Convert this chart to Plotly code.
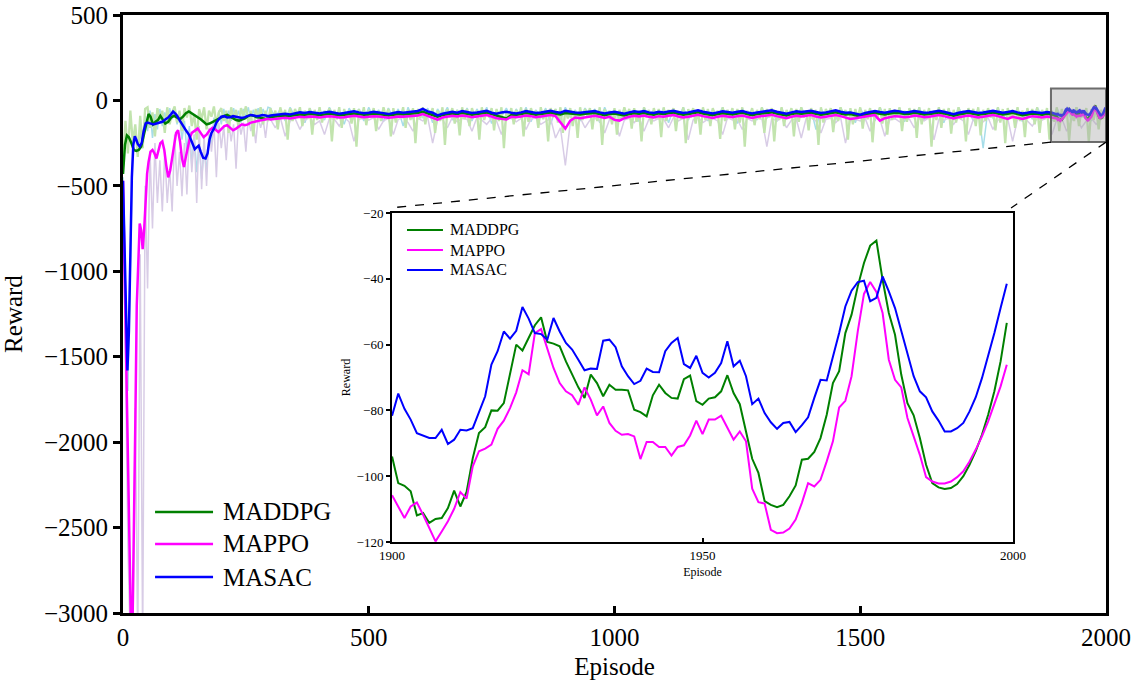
"""
Reward curves of MADDPG, MAPPO and MASAC over 2000 episodes,
with an inset that zooms in on the last 100 episodes
"""
import plotly.graph_objects as go

green = '#008000'
magenta = '#ff00ff'
blue = '#0000ff'
green_raw = '#c2e4ae'
purple_raw = '#d8cce6'
cyan_raw = '#a6dde9'
serif = 'Liberation Serif, Times New Roman, serif'

algos = ['MADDPG', 'MAPPO', 'MASAC']

# ---- smoothed curves, first 300 episodes ----
maddpg_early_ep = [0, 4, 8, 12, 17, 22, 27, 32, 37, 42, 47, 52, 56, 61, 66, 71, 76, 81, 86, 92,
                   98, 104, 110, 116, 122, 128, 134, 140, 146, 152, 158, 164, 170, 176, 182, 188,
                   194, 200, 206, 212, 218, 224, 230, 236, 242, 248, 254, 260, 266, 272, 278, 284,
                   290, 296]
maddpg_early = [-430, -260, -205, -215, -250, -290, -295, -290, -270, -200, -130, -80, -95, -140,
                -125, -115, -90, -115, -135, -125, -100, -90, -100, -110, -95, -75, -65, -75, -85,
                -100, -110, -125, -140, -135, -125, -120, -110, -100, -90, -85, -95, -105, -115,
                -118, -112, -105, -92, -85, -90, -98, -100, -105, -108, -104]

mappo_early_ep = [0, 4, 8, 12, 16, 19, 22, 25, 28, 31, 34, 37, 40, 43, 46, 49, 52, 56, 60, 64, 68,
                  72, 76, 80, 84, 88, 92, 96, 100, 104, 108, 112, 116, 120, 124, 128, 132, 136,
                  140, 146, 152, 158, 164, 170, 176, 182, 188, 194, 200, 206, 212, 218, 224, 230,
                  236, 242, 248, 254, 260, 266, 272, 278, 284, 290, 296]
mappo_early = [-470, -1100, -1800, -2500, -3050, -3150, -2600, -1900, -1200, -890, -720, -760,
               -870, -760, -560, -430, -360, -300, -290, -310, -340, -300, -250, -240, -290, -380,
               -450, -410, -330, -250, -190, -175, -240, -340, -390, -330, -270, -220, -190, -175,
               -165, -190, -215, -200, -175, -160, -170, -185, -170, -150, -145, -160, -175, -165,
               -150, -140, -145, -140, -130, -125, -120, -118, -115, -112, -108]

masac_early_ep = [0, 3, 6, 9, 12, 15, 18, 21, 24, 27, 30, 34, 38, 42, 46, 50, 56, 62, 68, 74, 80,
                  86, 92, 98, 102, 106, 110, 116, 122, 128, 134, 140, 146, 150, 154, 158, 163, 168,
                  172, 176, 180, 185, 190, 195, 200, 206, 212, 218, 224, 230, 236, 242, 248, 254,
                  260, 266, 272, 278, 284, 290, 296]
masac_early = [-470, -900, -1300, -1580, -1350, -800, -450, -260, -210, -230, -255, -270, -250,
               -180, -135, -130, -135, -140, -135, -130, -125, -112, -100, -80, -65, -75, -90,
               -120, -150, -175, -200, -240, -285, -275, -265, -300, -335, -340, -310, -230, -190,
               -165, -130, -110, -95, -92, -100, -98, -92, -95, -100, -102, -98, -90, -85, -88,
               -92, -90, -86, -88, -92]

# ---- smoothed curves, episodes 300..1890 every 10 ----
mid_ep = list(range(300, 1900, 10))
maddpg_mid = [
    -98, -94, -90, -88, -90, -85, -82, -84, -80, -82,
    -85, -82, -78, -82, -86, -84, -80, -76, -80, -84,
    -82, -78, -80, -85, -88, -84, -80, -82, -80, -76,
    -74, -66, -76, -82, -95, -86, -80, -76, -80, -74,
    -78, -84, -80, -76, -72, -80, -90, -96, -106, -86,
    -86, -80, -74, -78, -84, -80, -76, -72, -78, -82,
    -74, -78, -80, -82, -78, -75, -74, -80, -86, -80,
    -76, -82, -88, -80, -75, -78, -74, -80, -84, -76,
    -80, -75, -72, -78, -84, -80, -74, -70, -76, -82,
    -86, -80, -75, -78, -82, -76, -72, -80, -86, -80,
    -76, -72, -70, -76, -82, -88, -80, -75, -78, -74,
    -72, -78, -84, -80, -75, -70, -76, -82, -80, -86,
    -94, -84, -76, -72, -78, -82, -76, -72, -74, -80,
    -78, -72, -76, -82, -80, -75, -72, -76, -84, -90,
    -82, -76, -72, -78, -84, -80, -75, -72, -76, -82,
    -78, -72, -80, -86, -82, -76, -80, -84, -78, -82]
mappo_mid = [
    -112, -108, -104, -102, -106, -100, -96, -98, -94, -96,
    -100, -96, -92, -96, -100, -98, -94, -90, -94, -98,
    -96, -92, -94, -98, -102, -98, -94, -96, -94, -90,
    -88, -80, -90, -98, -112, -100, -94, -90, -94, -88,
    -92, -98, -94, -90, -86, -94, -104, -108, -112, -96,
    -98, -94, -88, -92, -98, -94, -90, -86, -92, -130,
    -165, -118, -100, -104, -98, -92, -90, -96, -102, -96,
    -114, -118, -104, -96, -90, -94, -88, -96, -100, -92,
    -96, -90, -86, -94, -100, -96, -88, -84, -92, -98,
    -102, -96, -90, -94, -98, -92, -88, -96, -102, -96,
    -92, -88, -84, -92, -98, -104, -96, -90, -94, -88,
    -86, -94, -100, -96, -90, -86, -92, -98, -108, -104,
    -98, -94, -90, -86, -118, -104, -96, -92, -94, -98,
    -96, -88, -92, -98, -96, -90, -86, -92, -100, -106,
    -98, -92, -88, -94, -100, -96, -90, -86, -92, -98,
    -108, -96, -104, -108, -100, -92, -96, -100, -94, -98]
masac_mid = [
    -88, -84, -80, -78, -82, -75, -70, -74, -68, -72,
    -76, -70, -66, -72, -78, -74, -68, -64, -70, -75,
    -72, -66, -70, -76, -80, -74, -68, -72, -70, -66,
    -62, -50, -64, -72, -88, -78, -70, -66, -72, -62,
    -68, -74, -70, -64, -60, -72, -78, -70, -66, -72,
    -76, -70, -62, -68, -74, -70, -66, -60, -68, -72,
    -60, -66, -70, -72, -68, -64, -62, -70, -76, -70,
    -66, -72, -78, -70, -64, -68, -62, -70, -74, -66,
    -70, -64, -60, -68, -74, -70, -62, -58, -66, -72,
    -76, -70, -64, -68, -72, -66, -62, -70, -76, -70,
    -66, -62, -58, -66, -72, -78, -70, -64, -68, -62,
    -60, -68, -74, -70, -64, -58, -66, -72, -70, -76,
    -84, -74, -66, -62, -68, -72, -66, -60, -64, -70,
    -68, -62, -66, -72, -70, -64, -60, -66, -74, -80,
    -72, -66, -62, -68, -74, -70, -64, -60, -66, -72,
    -68, -62, -70, -76, -72, -66, -70, -74, -68, -72]

# ---- last 100 episodes (shown in the inset) ----
zoom_ep = list(range(1900, 2000))
maddpg_zoom = [
    -94.0, -102.1, -102.9, -104.6, -111.9, -111.2, -114.2, -113.0, -112.7, -109.7,
    -104.4, -109.2, -104.8, -94.5, -86.9, -85.1, -80.0, -80.1, -77.8, -68.6,
    -60.0, -61.8, -58.0, -54.1, -51.7, -59.2, -59.7, -60.5, -65.1, -69.1,
    -73.0, -76.2, -69.1, -71.7, -75.7, -72.2, -73.7, -73.7, -73.9, -79.8,
    -80.5, -81.8, -75.4, -72.2, -74.7, -76.2, -76.4, -70.5, -69.4, -77.2,
    -78.3, -76.4, -76.0, -74.2, -69.3, -74.7, -78.1, -86.4, -94.7, -99.0,
    -107.6, -108.7, -109.4, -108.7, -106.1, -102.8, -95.0, -94.7, -92.6, -88.4,
    -81.3, -71.7, -68.1, -56.5, -50.9, -42.3, -35.2, -29.9, -28.4, -40.3,
    -50.4, -57.0, -69.1, -77.8, -81.5, -88.4, -96.5, -102.1, -103.4, -103.9,
    -103.6, -102.4, -100.0, -96.5, -92.4, -87.4, -81.3, -74.2, -65.1, -53.4]
mappo_zoom = [
    -105.8, -109.2, -112.7, -109.2, -108.0, -111.7, -115.7, -119.8, -116.8, -113.7,
    -109.9, -104.8, -106.8, -97.0, -92.4, -91.6, -90.4, -85.6, -83.1, -79.3,
    -74.5, -67.8, -69.0, -56.5, -55.3, -61.0, -67.1, -71.7, -74.2, -75.4,
    -78.3, -73.0, -76.7, -81.5, -78.8, -83.8, -86.2, -87.4, -87.2, -87.9,
    -94.8, -89.6, -89.6, -91.1, -91.1, -93.7, -91.1, -90.6, -87.6, -83.1,
    -87.2, -82.8, -82.8, -81.6, -85.1, -88.9, -86.4, -89.4, -103.8, -107.9,
    -108.3, -116.3, -117.3, -117.1, -115.9, -113.2, -108.1, -102.1, -103.1, -101.1,
    -95.5, -89.4, -79.1, -77.1, -69.6, -56.0, -44.6, -41.0, -44.0, -50.4,
    -64.6, -70.7, -73.0, -82.3, -87.9, -93.5, -100.3, -101.6, -102.2, -102.2,
    -101.6, -100.3, -98.5, -95.5, -91.9, -87.9, -83.3, -78.3, -72.7, -66.1]
masac_zoom = [
    -81.6, -74.9, -79.5, -82.8, -86.9, -87.7, -88.4, -88.4, -85.9, -90.2,
    -88.9, -85.9, -86.1, -85.4, -80.8, -75.7, -66.1, -62.0, -56.0, -58.2,
    -55.8, -48.6, -52.1, -56.5, -56.8, -58.5, -51.9, -56.0, -59.5, -61.5,
    -64.6, -67.8, -67.3, -67.4, -58.8, -58.5, -60.8, -66.6, -69.6, -72.0,
    -71.0, -67.3, -68.3, -68.4, -62.0, -59.5, -58.0, -65.9, -67.1, -63.4,
    -68.6, -70.0, -68.6, -65.6, -59.0, -66.6, -64.9, -69.6, -78.1, -76.4,
    -80.8, -83.6, -85.6, -83.8, -83.5, -86.6, -84.5, -82.1, -76.2, -70.7,
    -70.9, -64.1, -56.5, -48.4, -43.6, -41.0, -40.6, -46.8, -45.8, -39.3,
    -43.8, -48.9, -56.0, -62.9, -69.6, -74.2, -76.0, -80.3, -83.1, -86.4,
    -86.4, -85.4, -83.8, -80.3, -76.0, -70.2, -63.6, -56.5, -48.9, -41.5]

# ---- raw (unsmoothed) rewards ----
raw_dense_ep = list(range(0, 2000, 5))
maddpg_raw = [
    -380, -120, -310, -60, -250, -140, -330, -90, -280, -50, -40, -160, -70, -210, -45, -120, -60, -190, -40, -140,
    -70, -35, -130, -60, -180, -45, -100, -30, -150, -80, -230, -50, -110, -40, -170, -60, -95, -35, -140, -70,
    -45, -120, -60, -190, -40, -105, -55, -160, -45, -90, -35, -130, -60, -210, -50, -100, -40, -140, -60, -120,
    -45, -110, -60, -170, -40, -95, -55, -230, -45, -120, -50, -90, -40, -150, -60, -105, -45, -200, -55, -115,
    -40, -130, -60, -95, -45, -240, -55, -110, -40, -160, -50, -100, -60, -135, -45, -270, -50, -105, -40, -145,
    -55, -100, -45, -180, -60, -120, -40, -95, -50, -210, -45, -130, -60, -100, -40, -160, -55, -115, -45, -250,
    -50, -105, -40, -140, -55, -95, -45, -190, -60, -120, -40, -260, -50, -100, -45, -135, -55, -205, -40, -110,
    -50, -150, -45, -95, -60, -230, -40, -115, -55, -100, -45, -175, -50, -120, -40, -280, -60, -105, -45, -140,
    -55, -100, -40, -210, -50, -125, -45, -95, -60, -160, -40, -110, -55, -240, -45, -100, -50, -130, -40, -190,
    -55, -105, -45, -150, -60, -220, -40, -115, -50, -95, -45, -170, -55, -120, -40, -260, -50, -100, -60, -140,
    -45, -200, -55, -110, -40, -95, -50, -165, -45, -125, -60, -240, -40, -100, -55, -140, -45, -105, -50, -215,
    -40, -120, -55, -95, -45, -180, -60, -110, -40, -250, -50, -100, -45, -135, -55, -200, -40, -115, -50, -150,
    -45, -100, -60, -225, -40, -120, -55, -95, -45, -170, -50, -130, -40, -270, -60, -105, -45, -145, -55, -110,
    -40, -190, -50, -100, -45, -240, -60, -115, -40, -150, -55, -95, -45, -210, -50, -125, -40, -100, -60, -175,
    -45, -110, -55, -260, -40, -130, -50, -95, -45, -185, -60, -120, -40, -100, -55, -230, -45, -140, -50, -105,
    -40, -165, -55, -110, -45, -245, -60, -100, -40, -135, -50, -200, -45, -115, -55, -95, -40, -180, -60, -125,
    -45, -100, -50, -220, -40, -140, -55, -105, -45, -270, -60, -115, -40, -160, -50, -100, -45, -195, -55, -130,
    -40, -110, -60, -240, -45, -95, -50, -150, -40, -205, -55, -120, -45, -100, -60, -175, -40, -130, -50, -250,
    -45, -105, -55, -160, -40, -120, -60, -215, -45, -100, -50, -140, -40, -190, -55, -110, -45, -230, -60, -125,
    -40, -180, -50, -105, -45, -235, -55, -120, -40, -150, -60, -100, -45, -245, -50, -115, -40, -170, -55, -110]

raw_sparse_ep = list(range(0, 300, 5)) + list(range(300, 2000, 10))
mappo_raw = [
    -480, -1500, -2600, -3200, -3200, -1800, -3200, -900, -3200, -500,
    -1100, -300, -750, -250, -600, -350, -650, -300, -600, -400,
    -650, -200, -500, -300, -560, -250, -550, -180, -420, -200,
    -600, -150, -520, -200, -500, -160, -300, -140, -450, -130,
    -280, -150, -350, -120, -240, -140, -400, -110, -200, -130,
    -300, -100, -180, -120, -250, -100, -160, -110, -220, -100,
    -110, -160, -100, -210, -120, -105, -170, -115, -100, -140,
    -120, -200, -105, -110, -150, -100, -125, -240, -110, -105,
    -115, -100, -170, -120, -105, -200, -110, -100, -130, -180,
    -105, -120, -100, -250, -115, -110, -160, -100, -125, -105,
    -110, -180, -100, -115, -140, -105, -120, -200, -110, -100,
    -125, -105, -170, -110, -100, -140, -120, -105, -220, -160,
    -380, -130, -110, -100, -160, -115, -105, -120, -190, -110,
    -100, -210, -115, -105, -130, -100, -180, -110, -120, -105,
    -110, -160, -100, -120, -105, -230, -115, -100, -130, -110,
    -105, -120, -200, -100, -115, -110, -170, -105, -120, -100,
    -110, -270, -105, -120, -100, -160, -115, -110, -220, -105,
    -100, -120, -190, -110, -105, -130, -100, -250, -115, -110,
    -120, -105, -180, -100, -110, -210, -115, -105, -125, -100,
    -110, -160, -105, -120, -100, -230, -110, -115, -105, -140,
    -100, -120, -200, -110, -105, -125, -100, -170, -115, -110,
    -105, -240, -110, -100, -120, -150, -105, -115, -100, -200,
    -110, -105, -180, -115, -100, -160, -120, -105, -140, -110]
masac_raw = [
    -450, -1200, -1700, -900, -250, -150, -320, -180, -280, -90,
    -180, -60, -220, -80, -170, -50, -150, -70, -130, -45,
    -110, -40, -140, -90, -230, -120, -300, -150, -380, -200,
    -420, -240, -460, -280, -420, -200, -260, -100, -180, -60,
    -140, -50, -130, -60, -120, -45, -110, -60, -130, -50,
    -100, -40, -120, -55, -100, -45, -110, -50, -95, -40,
    -45, -100, -50, -120, -40, -95, -55, -130, -45, -105,
    -50, -115, -40, -100, -55, -140, -45, -95, -50, -120,
    -40, -105, -55, -125, -45, -100, -50, -150, -40, -110,
    -55, -100, -45, -130, -50, -95, -40, -115, -55, -105,
    -45, -120, -50, -100, -40, -135, -55, -95, -45, -110,
    -50, -105, -40, -125, -55, -100, -45, -140, -50, -115,
    -40, -100, -55, -120, -45, -95, -50, -130, -40, -105,
    -55, -115, -45, -100, -50, -125, -40, -95, -55, -110,
    -45, -130, -50, -100, -40, -115, -55, -105, -45, -120,
    -50, -95, -40, -110, -55, -135, -45, -100, -50, -115,
    -40, -105, -55, -125, -45, -100, -50, -120, -40, -95,
    -55, -170, -45, -105, -50, -115, -40, -100, -55, -130,
    -45, -100, -50, -120, -40, -95, -55, -110, -45, -125,
    -50, -105, -40, -115, -55, -100, -45, -130, -50, -110,
    -40, -95, -55, -120, -45, -280, -50, -105, -40, -115,
    -55, -100, -45, -125, -50, -110, -40, -95, -55, -120,
    -45, -105, -50, -115, -40, -100, -55, -120, -45, -110]

fig = go.Figure()

# raw traces underneath
fig.add_trace(go.Scatter(x=raw_sparse_ep, y=masac_raw, mode='lines',
                         line=dict(color=cyan_raw, width=1.5), showlegend=False))
fig.add_trace(go.Scatter(x=raw_sparse_ep, y=mappo_raw, mode='lines',
                         line=dict(color=purple_raw, width=1.5), showlegend=False))
fig.add_trace(go.Scatter(x=raw_dense_ep, y=maddpg_raw, mode='lines',
                         line=dict(color=green_raw, width=2.3), showlegend=False))

# smoothed traces on the main axes
main_series = [
    (maddpg_early_ep, maddpg_early, maddpg_mid, maddpg_zoom, green),
    (mappo_early_ep, mappo_early, mappo_mid, mappo_zoom, magenta),
    (masac_early_ep, masac_early, masac_mid, masac_zoom, blue),
]
for (early_ep, early, mid, zoom, color), name in zip(main_series, algos):
    fig.add_trace(go.Scatter(x=early_ep + mid_ep + zoom_ep, y=early + mid + zoom,
                             mode='lines', name=name, line=dict(color=color, width=2.5),
                             showlegend=False))

# inset
for (early_ep, early, mid, zoom, color), name in zip(main_series, algos):
    fig.add_trace(go.Scatter(x=zoom_ep, y=zoom, mode='lines', name=name,
                             line=dict(color=color, width=2), xaxis='x2', yaxis='y2',
                             showlegend=False))

# grey box marking the zoomed region + dashed connectors
shapes = [
    dict(type='rect', xref='x', yref='y', x0=1888, x1=2000, y0=-244, y1=70,
         fillcolor='rgba(165,165,165,0.4)', line=dict(color='rgba(85,85,85,0.85)', width=2),
         layer='above'),
    dict(type='line', xref='paper', yref='paper', x0=0.944, y0=0.7874, x1=0.2716, y1=0.6773,
         line=dict(color='black', width=1.3, dash='dash')),
    dict(type='line', xref='paper', yref='paper', x0=1.0, y0=0.7874, x1=0.9034, y1=0.6773,
         line=dict(color='black', width=1.3, dash='dash')),
]
annotations = []

# hand-placed legends (main and inset)
colors = [green, magenta, blue]
main_rows = [0.1689, 0.1154, 0.0602]
inset_rows = [0.6405, 0.6070, 0.5736]
for name, color, ym, yi in zip(algos, colors, main_rows, inset_rows):
    shapes.append(dict(type='line', xref='paper', yref='paper', x0=0.0326, x1=0.0916, y0=ym, y1=ym,
                       line=dict(color=color, width=2.5)))
    annotations.append(dict(xref='paper', yref='paper', x=0.0997, y=ym, text=name, showarrow=False,
                            xanchor='left', yanchor='middle', font=dict(size=25, family=serif)))
    shapes.append(dict(type='line', xref='paper', yref='paper', x0=0.2889, x1=0.3255, y0=yi, y1=yi,
                       line=dict(color=color, width=2)))
    annotations.append(dict(xref='paper', yref='paper', x=0.3306, y=yi, text=name, showarrow=False,
                            xanchor='left', yanchor='middle', font=dict(size=16, family=serif)))

axis_common = dict(showline=True, linecolor='black', mirror=True, showgrid=False, zeroline=False,
                   tickcolor='black', automargin=False, ticklabeloverflow='allow')

fig.update_layout(
    width=1136, height=688,
    margin=dict(l=123, r=30, t=15, b=75),
    paper_bgcolor='white', plot_bgcolor='white',
    font=dict(family=serif, color='black'),
    showlegend=False,
    shapes=shapes,
    annotations=annotations,
    xaxis=dict(range=[0, 2000], tickvals=[0, 500, 1000, 1500, 2000], ticks='inside',
               ticklen=7, tickwidth=2.5, linewidth=3,
               tickfont=dict(size=25, family=serif, color='black'),
               title=dict(text='Episode', font=dict(size=25, family=serif), standoff=8),
               **axis_common),
    yaxis=dict(range=[-3000, 500], tickvals=[-3000, -2500, -2000, -1500, -1000, -500, 0, 500],
               ticks='outside', ticklen=7, tickwidth=2.5, linewidth=3,
               tickfont=dict(size=25, family=serif, color='black'),
               title=dict(text='Reward', font=dict(size=25, family=serif), standoff=20),
               **axis_common),
    xaxis2=dict(domain=[0.2737, 0.9054], anchor='y2', range=[1900, 2000],
                tickvals=[1900, 1950, 2000], ticks='inside', ticklen=4, tickwidth=1.5,
                linewidth=2, tickfont=dict(size=13, family=serif, color='black'),
                title=dict(text='Episode', font=dict(size=12, family=serif), standoff=6),
                **axis_common),
    yaxis2=dict(domain=[0.1187, 0.6689], anchor='x2', range=[-120, -20],
                tickvals=[-120, -100, -80, -60, -40, -20], ticks='outside', ticklen=4,
                tickwidth=1.5, linewidth=2, tickfont=dict(size=13, family=serif, color='black'),
                title=dict(text='Reward', font=dict(size=12, family=serif), standoff=3),
                **axis_common),
)

# drop the browser's default 8px body margin so the figure sits at the page corner
fig.write_html("out.html", config={'displayModeBar': False},
               post_script="document.body.style.margin = '0';")
